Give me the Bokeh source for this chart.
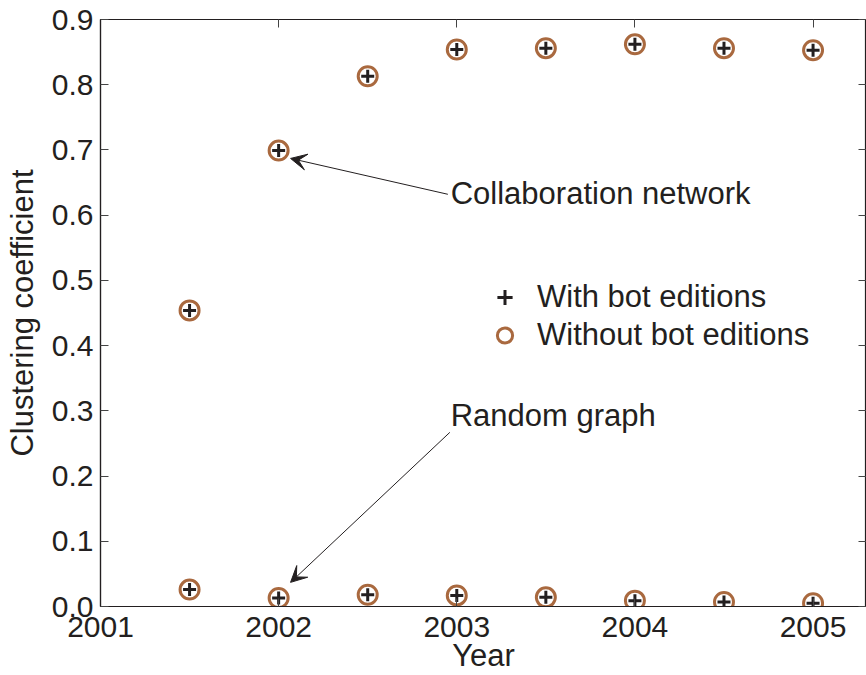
from bokeh.plotting import figure
from bokeh.models import (Range1d, LinearAxis, FixedTicker, Label, Arrow, VeeHead,
                          Legend, LegendItem, NumeralTickFormatter, CustomJSTickFormatter)
from bokeh.embed import file_html
from bokeh.resources import INLINE

# Clustering coefficient of the editor network, sampled every half year
years = [2001.5, 2002.0, 2002.5, 2003.0, 2003.5, 2004.0, 2004.5, 2005.0]
collab_with_bots = [0.454, 0.699, 0.813, 0.854, 0.856, 0.862, 0.856, 0.853]
collab_without_bots = [0.454, 0.699, 0.813, 0.854, 0.856, 0.862, 0.856, 0.853]
random_with_bots = [0.026, 0.013, 0.018, 0.017, 0.014, 0.009, 0.007, 0.005]
random_without_bots = [0.026, 0.013, 0.018, 0.017, 0.014, 0.009, 0.007, 0.005]

x_ticks = [2001, 2002, 2003, 2004, 2005]
y_ticks = [0.0, 0.1, 0.2, 0.3, 0.4, 0.5, 0.6, 0.7, 0.8, 0.9]

FONT = "Liberation Sans"
INK = "#231f20"
BROWN = "#a9693f"
TICK_SIZE = "30px"
TEXT_SIZE = "31px"

p = figure(width=866, height=675, output_backend="svg", toolbar_location=None,
           x_range=Range1d(2001, 2005.3), y_range=Range1d(0, 0.9),
           min_border_left=100, min_border_top=19, min_border_right=0, min_border_bottom=69,
           background_fill_color="white", border_fill_color="white")
p.grid.visible = False
p.outline_line_color = INK
p.outline_line_width = 1.2

def style_axis(ax, show_labels):
    ax.axis_line_color = INK
    ax.axis_line_width = 1.2
    ax.major_tick_in = 8
    ax.major_tick_out = 0
    ax.minor_tick_in = 0
    ax.minor_tick_out = 0
    ax.major_tick_line_color = "#444444"
    ax.major_label_text_font = FONT
    ax.major_label_text_color = INK
    ax.major_label_text_font_size = TICK_SIZE
    ax.axis_label_text_font = FONT
    ax.axis_label_text_font_size = TEXT_SIZE
    ax.axis_label_text_font_style = "normal"
    ax.axis_label_text_color = INK
    if not show_labels:
        ax.formatter = CustomJSTickFormatter(code="return ''")

xax = p.xaxis[0]
xax.ticker = FixedTicker(ticks=x_ticks)
xax.axis_label = "Year"
xax.major_label_standoff = 10
xax.axis_label_standoff = -2
style_axis(xax, True)

yax = p.yaxis[0]
yax.ticker = FixedTicker(ticks=y_ticks)
yax.formatter = NumeralTickFormatter(format="0.0")
yax.axis_label = "Clustering coefficient"
yax.major_label_standoff = 7
yax.axis_label_standoff = 9
style_axis(yax, True)

# Mirrored ticks on the top and right edges of the box
top = LinearAxis(ticker=FixedTicker(ticks=x_ticks), major_label_standoff=0)
style_axis(top, False)
p.add_layout(top, "above")
right = LinearAxis(ticker=FixedTicker(ticks=y_ticks), major_label_standoff=0)
style_axis(right, False)
p.add_layout(right, "right")

# Circles (without bots) underneath, plus signs (with bots) on top
c1 = p.scatter(years, collab_without_bots, marker="circle", size=19,
               fill_color=None, line_color=BROWN, line_width=3)
c2 = p.scatter(years, random_without_bots, marker="circle", size=19,
               fill_color=None, line_color=BROWN, line_width=3)
x1 = p.scatter(years, collab_with_bots, marker="cross", size=13,
               line_color=INK, line_width=3)
x2 = p.scatter(years, random_with_bots, marker="cross", size=13,
               line_color=INK, line_width=3)

legend = Legend(items=[LegendItem(label="With bot editions", renderers=[x1]),
                       LegendItem(label="Without bot editions", renderers=[c1])],
                location=(382, 252), border_line_color=None, background_fill_alpha=0,
                padding=0, margin=0, spacing=0, glyph_width=45, glyph_height=38,
                label_height=38, label_standoff=10,
                label_text_font=FONT, label_text_font_size=TEXT_SIZE, label_text_color=INK)
p.add_layout(legend, "center")

# Callouts
callouts = [("Collaboration network", 2002.966, 0.633, 2002.95, 0.632, 2002.067, 0.687),
            ("Random graph", 2002.966, 0.293, 2002.961, 0.267, 2002.067, 0.037)]
for text, tx, ty, xs, ys, xe, ye in callouts:
    p.add_layout(Label(x=tx, y=ty, text=text, text_font=FONT, text_font_size=TEXT_SIZE,
                       text_color=INK, text_baseline="middle", text_align="left"))
    p.add_layout(Arrow(x_start=xs, y_start=ys, x_end=xe, y_end=ye, line_color=INK,
                       line_width=1,
                       end=VeeHead(size=16, fill_color=INK, line_color=INK, line_width=1)))

open("out.html", "w").write(file_html(p, INLINE))
